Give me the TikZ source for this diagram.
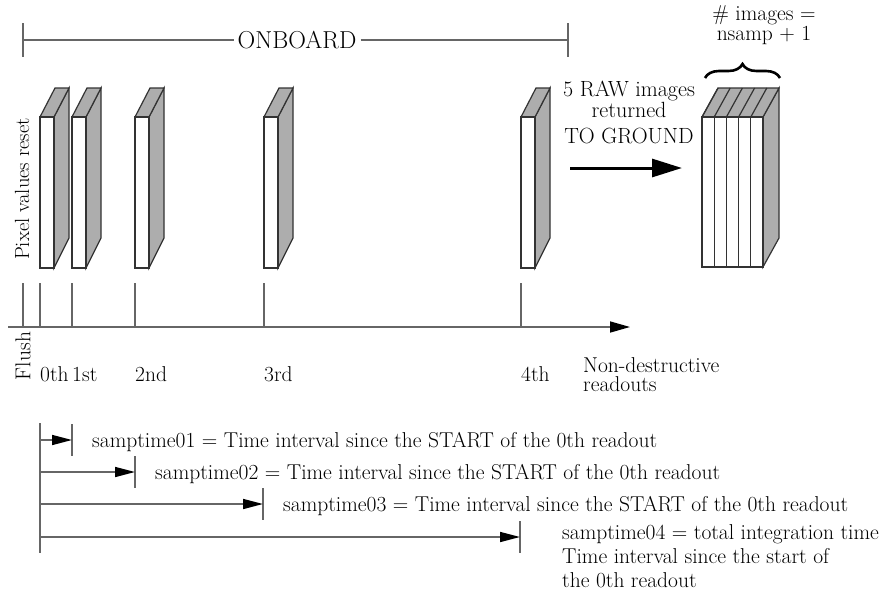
\documentclass[tikz,border=0pt]{standalone}
\usetikzlibrary{arrows.meta,decorations.pathreplacing}
\colorlet{rulegray}{black!60}
\colorlet{slabgray}{black!32}
\colorlet{edgegray}{black!80}
\tikzset{
  tickline/.style={rulegray, line width=1.6pt},
  slabface/.style={draw=edgegray, line width=1.2pt},
  lbl/.style={inner sep=0pt, font=\fontsize{21.5}{24}\selectfont},
  timearrow/.style={-{Triangle[length=20pt,width=10pt,color=black]}},
}
\begin{document}
\begin{tikzpicture}[x=1pt,y=-1pt]
\useasboundingbox (0,0) rectangle (886,600);
% onboard span
\node[lbl, font=\fontsize{24.5}{26}\selectfont] (onboard) at (297,40) {ONBOARD};
\coordinate (obL) at (23,40);
\coordinate (obR) at (568,40);
\draw[tickline] (23,23) -- (23,57);
\draw[tickline] (568,23) -- (568,57);
\draw[tickline] (obL) -- ([xshift=-4pt]onboard.west);
\draw[tickline] ([xshift=4pt]onboard.east) -- (obR);
\node[lbl, rotate=90, font=\fontsize{20.5}{22}\selectfont] (reset) at (22,189) {Pixel values reset};
% the five readouts
\foreach \p in {40,72,135,264,521}{
  \filldraw[slabface, fill=slabgray] (\p+14,117) -- (\p+29,88) -- (\p+29,238) -- (\p+14,268) -- cycle;
  \filldraw[slabface, fill=slabgray] (\p,117) -- (\p+15,88) -- (\p+29,88) -- (\p+14,117) -- cycle;
  \filldraw[slabface, fill=white] (\p,117) rectangle (\p+14,268);
}
\foreach \p in {23,40,72,135,264,521}{
  \draw[tickline] (\p,283) -- (\p,327);
}
\coordinate (axisL) at (8,327);
\coordinate (axisR) at (630,327);
\draw[tickline, -{Triangle[length=20pt,width=11pt,color=black]}] (axisL) -- (axisR);
\node[lbl, rotate=90] (flush) at (23,356) {Flush};
\foreach \p/\nm in {40/0th,72/1st,135/2nd,264/3rd,521/4th}{
  \node[lbl, anchor=base west] (r\nm) at (\p,381) {\nm};
}
\node[lbl, anchor=base west, align=left, font=\fontsize{21.5}{19}\selectfont] (nondes) at (583,391) {Non-destructive\\readouts};
% to ground
\node[lbl, anchor=base, align=center, font=\fontsize{22}{19}\selectfont] (raw) at (629,143) {5 RAW images\\returned\\[7pt]TO GROUND};
\coordinate (gndL) at (570,168);
\coordinate (gndR) at (682,168);
\draw[line width=3pt, -{Triangle[length=30pt,width=18pt]}] (gndL) -- (gndR);
% stack of images
\filldraw[slabface, fill=slabgray] (763,117) -- (779,88) -- (779,238) -- (763,267) -- cycle;
\filldraw[slabface, fill=slabgray] (702,117) -- (718,88) -- (779,88) -- (763,117) -- cycle;
\foreach \i in {0,...,4}{
  \draw[slabface] (702+12.2*\i,117) -- (718+12.2*\i,88);
  \filldraw[slabface, fill=white] (702+12.2*\i,117) rectangle (714.2+12.2*\i,267);
}
\draw[line width=2.6pt, decorate, decoration={brace, amplitude=14pt}] (705,78) -- (780,78);
\node[lbl, anchor=base, align=center, font=\fontsize{21.5}{16}\selectfont] (nimg) at (764,40) {\# images =\\nsamp + 1};
% sample times
\draw[tickline] (40,423) -- (40,553);
\foreach \k/\tx/\ty in {1/72/440,2/135/472,3/263/504}{
  \draw[tickline] (\tx,\ty-16) -- (\tx,\ty+16);
  \coordinate (s\k) at (40,\ty);
  \coordinate (e\k) at (\tx,\ty);
  \draw[tickline, timearrow] (s\k) -- (e\k);
  \node[lbl, anchor=base west] (st\k) at (\tx+20,\ty+7) {samptime0\k{} = Time interval since the START of the 0th readout};
}
\draw[tickline] (520,521) -- (520,553);
\coordinate (s4) at (40,537);
\coordinate (e4) at (520,537);
\draw[tickline, timearrow] (s4) -- (e4);
\node[lbl, anchor=base west, align=left, font=\fontsize{21.5}{24}\selectfont] (st4) at (562,587) {samptime04 = total integration time\\Time interval since the start of\\the 0th readout};
\end{tikzpicture}
\end{document}
